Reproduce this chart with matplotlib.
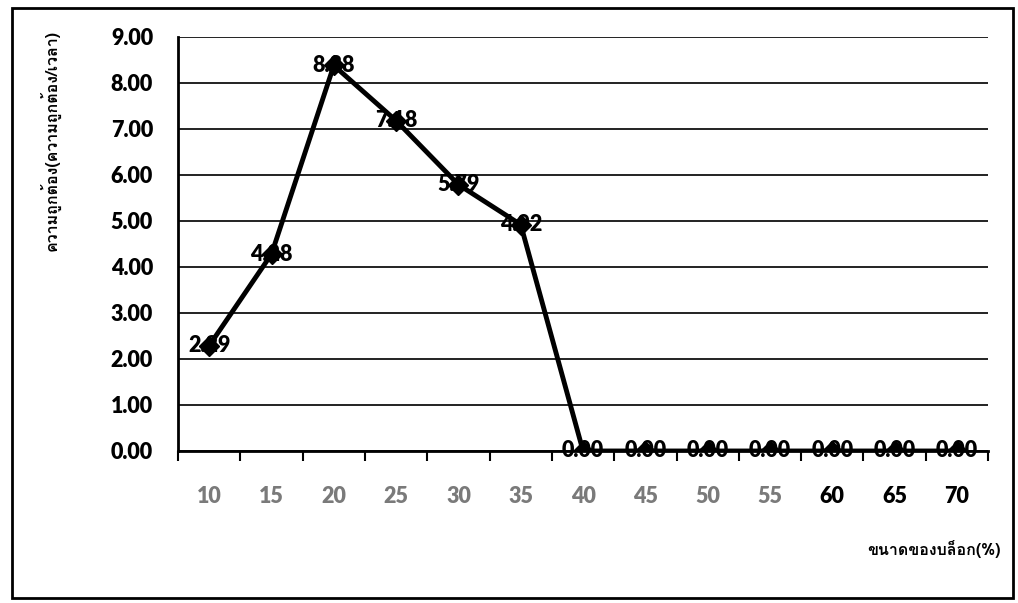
import matplotlib
matplotlib.use("Agg")
import matplotlib.pyplot as plt
from matplotlib import font_manager
from matplotlib.ft2font import FT2Font
from matplotlib.patches import Rectangle

block_sizes = [10, 15, 20, 25, 30, 35, 40, 45, 50, 55, 60, 65, 70]
accuracy = [2.29, 4.28, 8.38, 7.18, 5.79, 4.92, 0.00, 0.00, 0.00, 0.00, 0.00, 0.00, 0.00]
y_ticks = [0, 1, 2, 3, 4, 5, 6, 7, 8, 9]
x_label = "ขนาดของบล็อก(%)"
y_label = "ความถูกต้อง(ความถูกต้อง/เวลา)"


def find_thai_font():
    # pick the first installed font that actually carries Thai glyphs
    for entry in font_manager.fontManager.ttflist:
        try:
            if 0x0E01 in FT2Font(entry.fname).get_charmap():
                return entry.name
        except Exception:
            continue
    return "DejaVu Sans"


thai_font = find_thai_font()
num_font = "Lato"

fig = plt.figure(figsize=(10.18, 6.03), dpi=100)
ax = fig.add_axes([0.1749, 0.2521, 0.7957, 0.6866])

xs = list(range(len(block_sizes)))
ax.plot(xs, accuracy, color="black", lw=3.5, marker="D", ms=10, zorder=4)

for x, v in zip(xs, accuracy):
    ax.text(x, v, f"{v:.2f}", ha="center", va="center", fontsize=15.5,
            fontweight="heavy", family=num_font, color="black", zorder=3)

ax.set_xlim(-0.5, len(block_sizes) - 0.5)
ax.set_ylim(0, 9)
ax.set_yticks(y_ticks)
ax.set_yticklabels([f"{t:.2f}" for t in y_ticks], fontsize=15.5,
                   fontweight="heavy", family=num_font)
ax.yaxis.grid(True, color="#222222", lw=1.4)
ax.set_axisbelow(True)

ax.set_xticks(xs)
ax.set_xticklabels([str(b) for b in block_sizes], fontsize=15.5,
                   fontweight="heavy", family=num_font)
for i, lbl in enumerate(ax.get_xticklabels()):
    lbl.set_color("#7a7a7a" if i < 10 else "black")
ax.set_xticks([x - 0.5 for x in range(len(block_sizes) + 1)], minor=True)
ax.tick_params(axis="x", which="major", length=0, pad=25)
ax.tick_params(axis="x", which="minor", length=7, width=1.5, direction="out")
ax.tick_params(axis="y", length=0, pad=18)

for side in ("top", "right"):
    ax.spines[side].set_visible(False)
ax.spines["left"].set_linewidth(2)
ax.spines["bottom"].set_linewidth(2)

fig.text(0.983, 0.09, x_label, ha="right", va="center", fontsize=11.5,
         fontweight="bold", family=[thai_font, "DejaVu Sans"])
fig.text(0.049, 0.95, y_label, ha="center", va="top", rotation=90, fontsize=11.5,
         fontweight="bold", family=[thai_font, "DejaVu Sans"])

# outer frame around the whole chart
fig.patches.append(Rectangle((0.012, 0.008), 0.983, 0.978, transform=fig.transFigure,
                             fill=False, lw=2, edgecolor="black"))

fig.savefig("out.png", dpi=100)
